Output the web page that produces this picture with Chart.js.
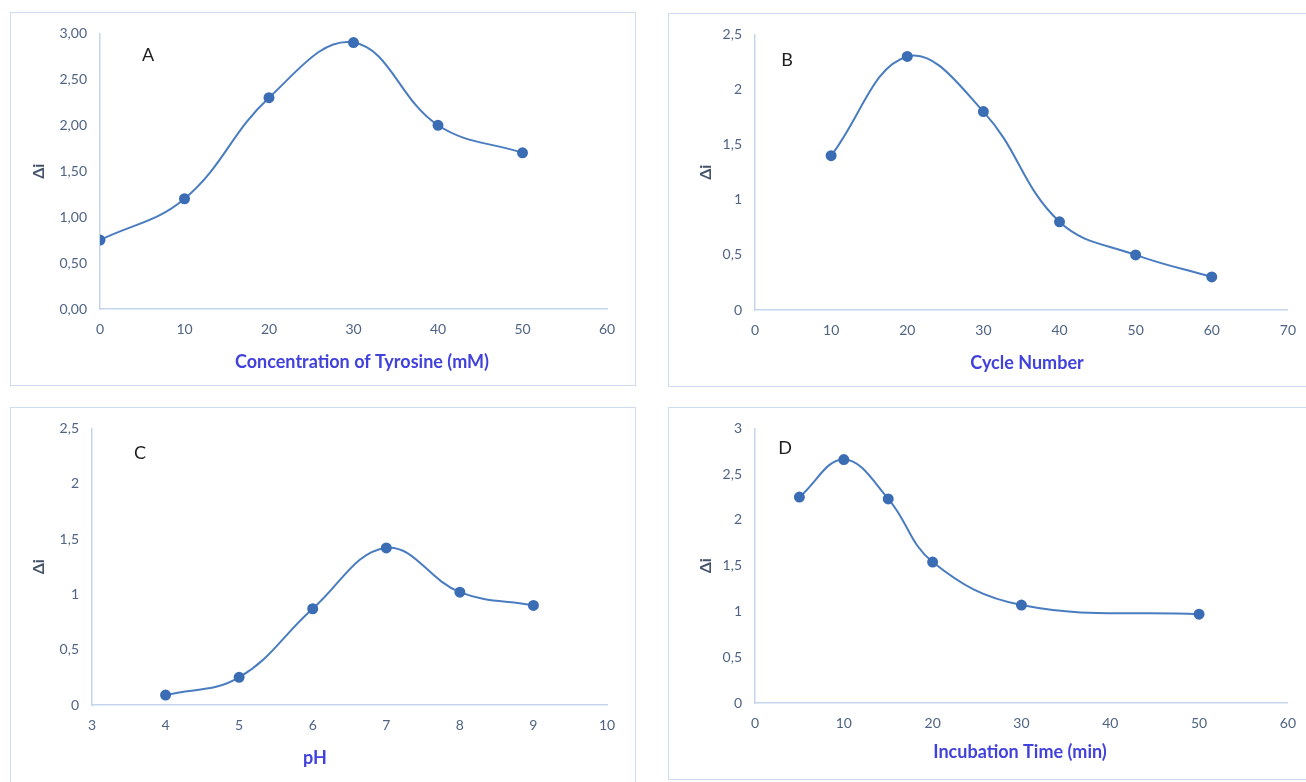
<!DOCTYPE html>
<html>
<head>
<meta charset="utf-8">
<script src="https://cdn.jsdelivr.net/npm/chart.js@4.4.0/dist/chart.umd.min.js"></script>
<style>
  html, body { margin: 0; padding: 0; background: #fff; }
  body { width: 1306px; height: 782px; position: relative; overflow: hidden; }
  .panel { position: absolute; box-sizing: border-box; border: 1px solid #cddcef; }
  .panel canvas { position: absolute; left: -1px; top: -1px; }
</style>
</head>
<body>
<div class="panel" id="boxA" style="left:10px;top:12px;width:626px;height:374px;"><canvas id="chartA"></canvas></div>
<div class="panel" id="boxB" style="left:668px;top:13px;width:640px;height:374px;"><canvas id="chartB"></canvas></div>
<div class="panel" id="boxC" style="left:10px;top:407px;width:626px;height:377px;"><canvas id="chartC"></canvas></div>
<div class="panel" id="boxD" style="left:668px;top:407px;width:640px;height:373px;"><canvas id="chartD"></canvas></div>

<script>
// Data
const tyrosineConc = [0, 10, 20, 30, 40, 50];
const tyrosineDeltaI = [0.75, 1.2, 2.3, 2.9, 2.0, 1.7];

const cycleNumber = [10, 20, 30, 40, 50, 60];
const cycleDeltaI = [1.4, 2.3, 1.8, 0.8, 0.5, 0.3];

const phValues = [4, 5, 6, 7, 8, 9];
const phDeltaI = [0.09, 0.25, 0.87, 1.42, 1.02, 0.9];

const incubationTime = [5, 10, 15, 20, 30, 50];
const incubationDeltaI = [2.25, 2.66, 2.23, 1.54, 1.07, 0.97];

const lineColor = '#4a7cc0';
const pointColor = '#3b6db5';
const tickColor = '#4f6485';
const titleColor = '#4141dc';
const axisColor = '#c4d6ec';
const fontFamily = 'Lato, "Open Sans", sans-serif';

// draws the panel letter and the x axis title
const panelText = {
    id: 'panelText',
    afterDraw(chart, args, opts) {
        const ctx = chart.ctx;
        ctx.save();
        ctx.textAlign = 'center';
        ctx.textBaseline = 'middle';
        ctx.fillStyle = '#1e1e1e';
        ctx.font = '18px ' + fontFamily;
        ctx.fillText(opts.letter, opts.letterPos[0], opts.letterPos[1]);
        ctx.fillStyle = titleColor;
        ctx.font = 'bold 18px ' + fontFamily;
        ctx.fillText(opts.xTitle, opts.xTitlePos[0], opts.xTitlePos[1]);
        ctx.restore();
    }
};

function makePanel(id, boxId, xs, ys, p) {
    const box = document.getElementById(boxId);
    const canvas = document.getElementById(id);
    canvas.width = box.offsetWidth;
    canvas.height = box.offsetHeight;
    return new Chart(canvas.getContext('2d'), {
        type: 'line',
        data: {
            datasets: [{
                data: xs.map((x, i) => ({ x: x, y: ys[i] })),
                borderColor: lineColor,
                borderWidth: 2,
                backgroundColor: pointColor,
                pointBackgroundColor: pointColor,
                pointBorderColor: pointColor,
                pointRadius: 4.5,
                tension: 0.4,
                fill: false
            }]
        },
        options: {
            responsive: false,
            animation: false,
            layout: { padding: { top: p.padTop, right: p.padRight, left: 0, bottom: 0 } },
            plugins: {
                legend: { display: false },
                tooltip: { enabled: false },
                panelText: { letter: p.letter, letterPos: p.letterPos, xTitle: p.xTitle, xTitlePos: p.xTitlePos }
            },
            scales: {
                x: {
                    type: 'linear',
                    min: p.xMin, max: p.xMax,
                    grid: { display: false, drawTicks: false },
                    border: { display: true, color: axisColor, width: 1.5 },
                    ticks: { stepSize: p.xStep, color: tickColor, padding: 12, font: { family: fontFamily, size: 14 } },
                    afterFit: s => { s.height = p.xHeight; }
                },
                y: {
                    min: 0, max: p.yMax,
                    grid: { display: false, drawTicks: false },
                    border: { display: true, color: axisColor, width: 1.5 },
                    ticks: {
                        stepSize: 0.5, color: tickColor, padding: 13,
                        font: { family: fontFamily, size: 14 },
                        callback: v => (p.decimals ? v.toFixed(p.decimals) : String(v)).replace('.', ',')
                    },
                    title: {
                        display: true, text: 'Δi', color: '#44546a',
                        font: { family: fontFamily, size: 16, weight: 'bold' },
                        padding: { top: p.yTitlePad, bottom: 0 }
                    },
                    afterFit: s => { s.width = p.yWidth; }
                }
            }
        },
        plugins: [panelText]
    });
}

makePanel('chartA', 'boxA', tyrosineConc, tyrosineDeltaI, {
    xMin: 0, xMax: 60, xStep: 10, yMax: 3, decimals: 2,
    padTop: 19, padRight: 29, yWidth: 90, xHeight: 77, yTitlePad: 19,
    letter: 'A', letterPos: [138, 43],
    xTitle: 'Concentration of Tyrosine (mM)', xTitlePos: [352, 350]
});

makePanel('chartB', 'boxB', cycleNumber, cycleDeltaI, {
    xMin: 0, xMax: 70, xStep: 10, yMax: 2.5, decimals: 0,
    padTop: 20, padRight: 20, yWidth: 87, xHeight: 77, yTitlePad: 28,
    letter: 'B', letterPos: [119, 47],
    xTitle: 'Cycle Number', xTitlePos: [359, 350]
});

makePanel('chartC', 'boxC', phValues, phDeltaI, {
    xMin: 3, xMax: 10, xStep: 1, yMax: 2.5, decimals: 0,
    padTop: 19, padRight: 29, yWidth: 82, xHeight: 79, yTitlePad: 19,
    letter: 'C', letterPos: [130, 46],
    xTitle: 'pH', xTitlePos: [305, 351]
});

makePanel('chartD', 'boxD', incubationTime, incubationDeltaI, {
    xMin: 0, xMax: 60, xStep: 10, yMax: 3, decimals: 0,
    padTop: 19, padRight: 20, yWidth: 87, xHeight: 77, yTitlePad: 28,
    letter: 'D', letterPos: [117, 41],
    xTitle: 'Incubation Time (min)', xTitlePos: [352, 345]
});
</script>
</body>
</html>
